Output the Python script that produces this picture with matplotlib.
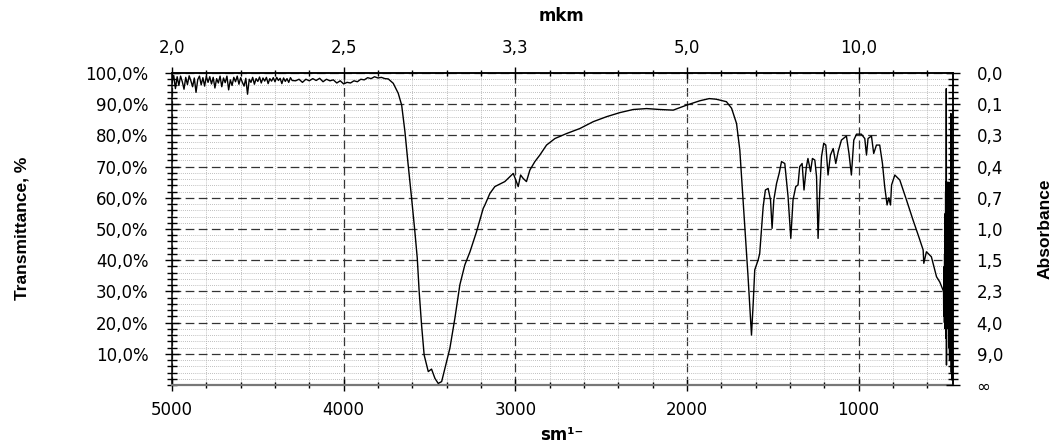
import matplotlib
matplotlib.use("Agg")
import matplotlib.pyplot as plt
from matplotlib.ticker import MultipleLocator, FixedLocator

# spectrum (cm-1, %T)
wavenumber = [
    5000, 4990, 4980, 4970, 4960, 4950, 4940, 4930, 4920, 4910, 4900, 4890,
    4880, 4870, 4860, 4850, 4840, 4830, 4820, 4810, 4800, 4790, 4780, 4770,
    4760, 4750, 4740, 4730, 4720, 4710, 4700, 4690, 4680, 4670, 4660, 4650,
    4640, 4630, 4620, 4610, 4600, 4590, 4580, 4570, 4560, 4550, 4540, 4530,
    4520, 4510, 4500, 4490, 4480, 4470, 4460, 4450, 4440, 4430, 4420, 4410,
    4400, 4390, 4380, 4370, 4360, 4350, 4340, 4330, 4320, 4310, 4300,
    4280, 4260, 4240, 4220, 4200, 4180, 4160, 4140, 4120, 4100, 4080, 4060,
    4040, 4020, 4000, 3980, 3960, 3940, 3920, 3900, 3880, 3860, 3840, 3820,
    3800, 3780, 3760, 3740, 3711, 3682, 3662, 3643, 3624, 3604, 3585, 3571,
    3560, 3546, 3531, 3507, 3488, 3468, 3449, 3429, 3410, 3381, 3352, 3323,
    3294, 3264, 3226, 3187, 3177, 3148, 3119, 3090, 3061, 3031, 3012, 2997,
    2983, 2969, 2954, 2935, 2915, 2886, 2857, 2818, 2769, 2701, 2624, 2546,
    2468, 2391, 2313, 2235, 2158, 2080, 2002, 1925, 1870, 1830, 1800, 1770,
    1740, 1711, 1692, 1682, 1669, 1657, 1644, 1634, 1624, 1614, 1605, 1585,
    1576, 1566, 1556, 1543, 1527, 1513, 1504, 1494, 1478, 1463, 1449, 1430,
    1411, 1395, 1382, 1366, 1353, 1343, 1329, 1318, 1304, 1295, 1280, 1269,
    1255, 1245, 1236, 1226, 1216, 1203, 1191, 1178, 1164, 1148, 1133, 1119,
    1100, 1071, 1056, 1042, 1028, 1012, 984, 964, 954, 945, 925, 912,
    896, 877, 861, 848, 834, 824, 814, 808, 789, 760, 721, 683,
    653, 624, 620, 605, 576, 546, 527, 508, 505, 504, 503, 502,
    501, 500, 499, 498, 497, 496, 495, 494, 493, 492, 491, 490,
    489, 488, 487, 486, 485, 484, 483, 482, 481, 480, 479, 478,
    477, 476, 475, 474, 473, 472, 471, 470, 469, 468, 467, 466,
    465, 464, 463, 462, 461, 460, 459, 458, 457, 456, 455, 454,
    453, 452, 451,
]
transmittance = [
    97.0, 99.2, 95.0, 98.8, 96.0, 99.0, 97.2, 94.8, 98.6, 96.3, 99.1, 97.5,
    95.6, 98.4, 93.8, 97.9, 99.0, 96.2, 98.5, 95.8, 99.0, 97.0, 98.8, 96.5,
    98.6, 95.2, 98.2, 96.8, 99.0, 95.6, 98.4, 96.9, 99.0, 94.6, 97.8, 96.0,
    98.6, 97.2, 99.0, 96.4, 98.5, 97.0, 95.8, 98.3, 93.2, 98.0, 97.0, 98.6,
    96.4, 98.2, 97.3, 98.7, 96.8, 98.4, 97.4, 98.6, 96.6, 98.2, 97.4, 98.5,
    97.2, 98.6, 97.6, 98.3, 96.6, 98.4, 97.3, 98.2, 97.0, 98.5, 97.6,
    97.5, 98.0, 97.0, 98.0, 97.5, 98.2, 97.6, 98.3, 97.2, 98.0, 97.5, 97.8,
    96.8, 97.5, 96.5, 97.0, 96.8, 97.5, 97.2, 98.0, 97.8, 98.5, 98.2, 98.8,
    98.4, 98.6, 98.2, 98.1, 96.7, 93.5, 89.7, 81.2, 70.5, 59.8, 49.1, 40.6,
    29.9, 19.2, 9.6, 4.3, 5.1, 2.1, 0.5, 1.1, 5.3, 11.8, 21.4, 32.1,
    38.5, 42.7, 49.1, 56.6, 57.7, 61.4, 63.6, 64.4, 65.2, 66.8, 67.8, 65.7,
    63.6, 67.3, 66.2, 65.2, 68.9, 71.6, 73.7, 76.9, 79.0, 80.6, 82.2, 84.4,
    86.0, 87.3, 88.3, 88.6, 88.3, 88.1, 89.7, 91.1, 91.8, 91.6, 91.2, 90.8,
    88.7, 83.8, 75.3, 66.8, 56.1, 45.4, 34.7, 25.1, 16.0, 26.2, 36.9, 40.1,
    42.2, 49.7, 57.1, 62.5, 63.0, 59.3, 50.2, 59.3, 64.6, 67.8, 71.6, 71.0,
    60.4, 47.0, 59.3, 63.6, 64.1, 70.0, 71.0, 62.5, 70.0, 72.6, 68.4, 72.6,
    72.1, 66.8, 47.0, 62.5, 73.2, 77.5, 76.9, 67.3, 73.7, 75.8, 71.0, 74.8,
    78.5, 79.8, 74.2, 67.3, 78.5, 80.4, 80.4, 79.0, 73.7, 79.0, 79.8, 74.2,
    76.9, 76.9, 71.0, 63.6, 57.7, 60.0, 57.7, 64.1, 67.3, 65.7, 59.3, 52.9,
    48.1, 43.3, 39.0, 42.7, 41.1, 34.7, 33.0, 30.4, 30.0, 22.0, 34.0, 25.0,
    38.0, 20.0, 42.0, 24.0, 48.0, 18.0, 55.0, 22.0, 62.0, 15.0, 65.0, 30.0,
    95.0, 6.4, 65.0, 21.0, 63.0, 25.0, 65.0, 20.0, 60.0, 22.0, 64.0, 18.0,
    62.0, 24.0, 65.0, 12.0, 60.0, 20.0, 63.0, 8.0, 58.0, 25.0, 65.0, 20.0,
    62.0, 10.0, 55.0, 87.0, 30.0, 4.0, 50.0, 20.0, 45.0, 1.6, 40.0, 15.0,
    35.0, 20.0, 30.0,
]

wn_ticks = [5000, 4000, 3000, 2000, 1000]
wn_labels = ["5000", "4000", "3000", "2000", "1000"]
mkm_labels = ["2,0", "2,5", "3,3", "5,0", "10,0"]
t_ticks = [10, 20, 30, 40, 50, 60, 70, 80, 90, 100]
t_labels = ["10,0%", "20,0%", "30,0%", "40,0%", "50,0%",
            "60,0%", "70,0%", "80,0%", "90,0%", "100,0%"]
abs_ticks = [0, 10, 20, 30, 40, 50, 60, 70, 80, 90, 100]
abs_labels = ["\u221e", "9,0", "4,0", "2,3", "1,5", "1,0",
              "0,7", "0,4", "0,3", "0,1", "0,0"]

xlim = (5000, 450)
ylim = (0, 100)

fig = plt.figure(figsize=(10.54, 4.44), dpi=100)
ax = fig.add_axes([172 / 1054, 1 - 385 / 444, (953 - 172) / 1054, (385 - 73) / 444])

ax.plot(wavenumber, transmittance, color="black", lw=1.0, zorder=3)
ax.set_xlim(*xlim)
ax.set_ylim(*ylim)

ax.xaxis.set_major_locator(FixedLocator(wn_ticks))
ax.set_xticklabels(wn_labels)
ax.xaxis.set_minor_locator(MultipleLocator(200))
ax.yaxis.set_major_locator(FixedLocator(t_ticks))
ax.set_yticklabels(t_labels)
ax.yaxis.set_minor_locator(MultipleLocator(2))

ax.grid(which="major", color="#333333", lw=0.9, ls=(0, (7, 3.5)), zorder=1)
ax.grid(which="minor", color="#aaaaaa", lw=0.6, ls=(0, (1, 1.5)), zorder=0)

ax.tick_params(axis="x", which="major", direction="inout", length=9, width=1,
               labelsize=12, pad=7)
ax.tick_params(axis="x", which="minor", direction="inout", length=5, width=1)
ax.tick_params(axis="y", which="major", direction="inout", length=10, width=1,
               labelsize=12, pad=12)
ax.tick_params(axis="y", which="minor", direction="inout", length=7, width=1)
ax.spines["bottom"].set_color("#777777")
ax.spines["bottom"].set_linewidth(1.6)
for s in ["top", "right", "left"]:
    ax.spines[s].set_linewidth(1.1)

# top axis: micrometres
ax_top = ax.twiny()
ax_top.set_xlim(*xlim)
ax_top.xaxis.set_major_locator(FixedLocator(wn_ticks))
ax_top.set_xticklabels(mkm_labels)
ax_top.xaxis.set_minor_locator(MultipleLocator(200))
ax_top.tick_params(axis="x", which="major", direction="inout", length=9, width=1,
                   labelsize=12, pad=7)
ax_top.tick_params(axis="x", which="minor", direction="inout", length=5, width=1)
for s in ["bottom", "left", "right"]:
    ax_top.spines[s].set_visible(False)
ax_top.spines["top"].set_linewidth(1.1)

# right axis: absorbance
ax_r = ax.twinx()
ax_r.set_ylim(*ylim)
ax_r.yaxis.set_major_locator(FixedLocator(abs_ticks))
ax_r.set_yticklabels(abs_labels)
ax_r.yaxis.set_minor_locator(MultipleLocator(2))
ax_r.tick_params(axis="y", which="major", direction="inout", length=10, width=1,
                 labelsize=12, pad=12)
ax_r.tick_params(axis="y", which="minor", direction="inout", length=7, width=1)
for s in ["bottom", "left", "top"]:
    ax_r.spines[s].set_visible(False)
ax_r.spines["right"].set_linewidth(1.1)

fig.text(562 / 1054, 1 - 16 / 444, "mkm", ha="center", va="center",
         fontsize=12, fontweight="bold")
fig.text(562 / 1054, 1 - 435 / 444, "sm\u00b9\u207b", ha="center", va="center",
         fontsize=12, fontweight="bold")
fig.text(22 / 1054, 1 - 228 / 444, "Transmittance, %", rotation=90,
         ha="center", va="center", fontsize=12.5, fontweight="bold",
         family=["Liberation Sans", "DejaVu Sans"])
fig.text(1045 / 1054, 1 - 229 / 444, "Absorbance", rotation=90,
         ha="center", va="center", fontsize=12.5, fontweight="bold",
         family=["Liberation Sans", "DejaVu Sans"])

fig.savefig("out.png", dpi=100)
